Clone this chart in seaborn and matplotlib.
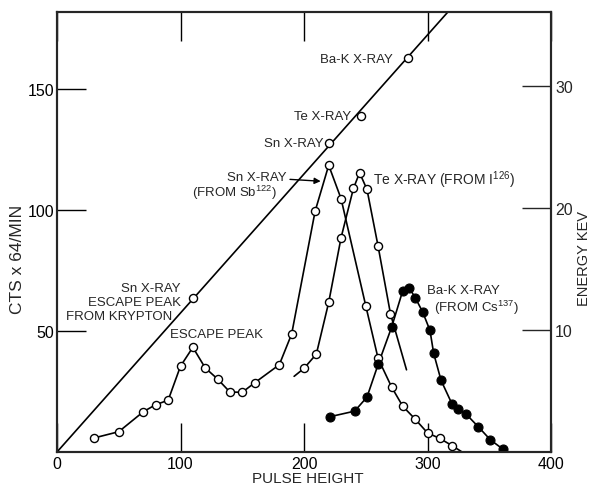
import numpy as np
import pandas as pd
import matplotlib
matplotlib.use("Agg")
import matplotlib.pyplot as plt
import seaborn as sns

# ---------------- data ----------------
# calibration line (pulse height vs counts scale, energy = counts/5)
line_ph = [0, 316.5]
line_cts = [0, 182]
calib_ph = [110, 220, 246, 284]
calib_cts = [63.6, 127.7, 139.0, 163.0]

# Sn X-ray (from Sb122), open circles
sn_ph = [30, 50, 70, 80, 90, 100, 110, 120, 130, 140, 150, 160, 180, 190,
         209, 220, 230, 250, 260, 271, 280, 290, 300, 310, 320]
sn_cts = [5.8, 8.4, 16.7, 19.6, 21.4, 35.5, 43.3, 34.8, 30.2, 24.8, 24.7,
          28.6, 36.1, 48.8, 99.6, 118.6, 104.8, 60.5, 38.7, 26.8, 18.9,
          13.6, 7.9, 5.6, 2.6]
sn_end_ph = [328]
sn_end_cts = [0]

# Te X-ray (from I126), open circles
te_ph = [200, 210, 220, 230, 240, 245, 251, 260, 270]
te_cts = [34.6, 40.5, 61.9, 88.6, 109.0, 115.5, 108.6, 85.1, 57.2]
te_start_ph = [192]
te_start_cts = [31.3]
te_end_ph = [283]
te_end_cts = [34.0]

# Ba-K X-ray (from Cs137), filled circles
ba_ph = [221, 241, 251, 260, 271, 280, 285, 290, 296, 302, 305, 311, 320,
         325, 331, 341, 351, 361]
ba_cts = [14.6, 16.9, 22.7, 36.2, 51.7, 66.8, 68.0, 63.9, 58.0, 50.3, 40.8,
          29.6, 19.7, 17.8, 15.8, 10.5, 5.0, 1.2]

x_ticks = [0, 100, 200, 300, 400]
y_ticks = [50, 100, 150]
e_ticks = [10, 20, 30]

# ---------------- style ----------------
sns.set_style("ticks")
plt.rcParams["font.family"] = ["Liberation Sans", "DejaVu Sans"]
plt.rcParams["mathtext.default"] = "regular"

fig = plt.figure(figsize=(5.92, 4.85), dpi=100)
ax = fig.add_axes([57 / 592, 32 / 485, 494 / 592, 440 / 485])

lw = 1.2
kw_line = dict(color="black", linewidth=lw, estimator=None, sort=False,
               legend=False, ax=ax)

sns.lineplot(x=line_ph, y=line_cts, **kw_line)
sns.lineplot(x=sn_ph + sn_end_ph, y=sn_cts + sn_end_cts, **kw_line)
sns.lineplot(x=te_start_ph + te_ph + te_end_ph,
             y=te_start_cts + te_cts + te_end_cts, **kw_line)
sns.lineplot(x=ba_ph, y=ba_cts, **kw_line)

open_kw = dict(s=34, facecolor="white", edgecolor="black", linewidth=1.0,
               zorder=5, legend=False, ax=ax)
sns.scatterplot(x=calib_ph, y=calib_cts, **open_kw)
sns.scatterplot(x=sn_ph, y=sn_cts, **open_kw)
sns.scatterplot(x=te_ph, y=te_cts, **open_kw)
sns.scatterplot(x=ba_ph, y=ba_cts, s=42, facecolor="black",
                edgecolor="black", linewidth=0.8, zorder=5, legend=False, ax=ax)

ax.set_xlim(0, 400)
ax.set_ylim(0, 182)
ax.set_xticks(x_ticks)
ax.set_yticks(y_ticks)
ax.tick_params(axis="both", direction="in", length=21, width=1.0,
               labelsize=11.5, colors="black")
ax.tick_params(axis="x", pad=3, top=True, labeltop=False)
ax.tick_params(axis="y", pad=2)
for sp in ax.spines.values():
    sp.set_linewidth(1.5)
    sp.set_color("black")

ax.set_xlabel("PULSE HEIGHT", fontsize=11)
ax.xaxis.set_label_coords(0.508, -0.068)
ax.xaxis.label.set_va("baseline")
ax.set_ylabel("CTS x 64/MIN", fontsize=12.5)
ax.yaxis.set_label_coords(-0.079, 0.439)
ax.yaxis.label.set_va("center")

# secondary energy axis
ax2 = ax.twinx()
ax2.set_ylim(0, 36.1)
ax2.set_yticks(e_ticks)
ax2.tick_params(axis="y", direction="in", length=21, width=1.0,
                labelsize=11.5, pad=3)
ax2.set_ylabel("ENERGY KEV", fontsize=10.5)
ax2.yaxis.set_label_coords(1.067, 0.443)
ax2.yaxis.label.set_va("center")
for sp in ax2.spines.values():
    sp.set_linewidth(1.5)

fs = 9.5
ax.text(272, 162.4, "Ba-K X-RAY", fontsize=fs, ha="right", va="center")
ax.text(238, 138.8, "Te X-RAY", fontsize=fs, ha="right", va="center")
ax.text(215.4, 127.7, "Sn X-RAY", fontsize=fs, ha="right", va="center")
ax.annotate("Sn X-RAY", xy=(213.5, 112.0), xytext=(186, 113.6),
            fontsize=fs, ha="right", va="center",
            arrowprops=dict(arrowstyle="-|>", color="black", lw=1.0,
                            mutation_scale=9, shrinkA=0, shrinkB=0))
ax.text(178, 107.5, "(FROM Sb$^{122}$)", fontsize=fs, ha="right", va="center")
ax.text(255.9, 112.8, "Te X-RAY (FROM I$^{126}$)", fontsize=10,
        ha="left", va="center")
ax.text(100.4, 67.8, "Sn X-RAY", fontsize=fs, ha="right", va="center")
ax.text(100.4, 62.2, "ESCAPE PEAK", fontsize=fs, ha="right", va="center")
ax.text(93.1, 56.4, "FROM KRYPTON", fontsize=fs, ha="right", va="center")
ax.text(91.5, 48.8, "ESCAPE PEAK", fontsize=fs, ha="left", va="center")
ax.text(299.6, 66.9, "Ba-K X-RAY", fontsize=fs, ha="left", va="center")
ax.text(305.3, 60.0, "(FROM Cs$^{137}$)", fontsize=fs, ha="left", va="center")

fig.savefig("out.png", dpi=100, facecolor="white")
